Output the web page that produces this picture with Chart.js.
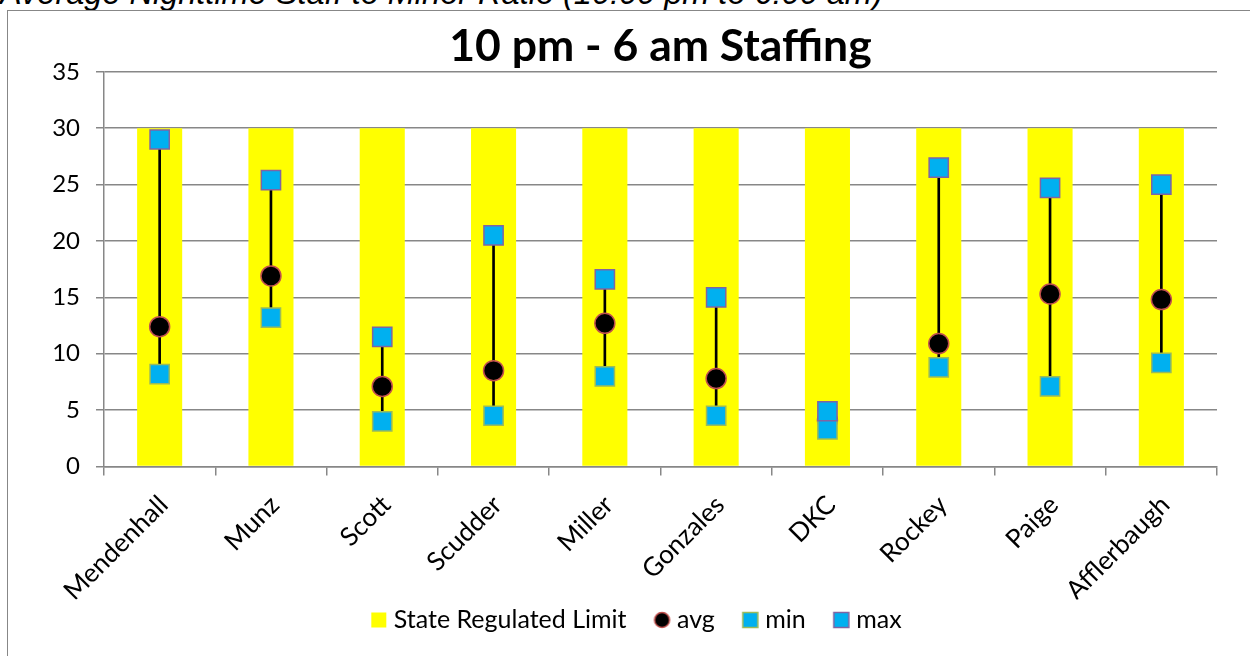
<!DOCTYPE html>
<html>
<head>
<meta charset="utf-8">
<script src="https://cdn.jsdelivr.net/npm/chart.js@4"></script>
<style>
  html, body { margin: 0; padding: 0; background: #fff; overflow: hidden; }
  #wrap { position: relative; width: 1250px; height: 656px; overflow: hidden; }
  #caption {
    position: absolute; left: 0px; top: -23px;
    font: italic 32.5px/32px "Liberation Sans", Arial, sans-serif; color: #000;
    white-space: nowrap;
  }
  #frame {
    position: absolute; left: 7px; top: 10px; width: 1400px; height: 800px;
    border-left: 1.5px solid #878787; border-top: 1.5px solid #878787;
  }
  #chart { position: absolute; left: 0; top: 0; }
</style>
</head>
<body>
<div id="wrap">
  <div id="caption">Average Nighttime Staff to Minor Ratio (10:00 pm to 6:00 am)</div>
  <div id="frame"></div>
  <canvas id="chart" width="1250" height="656"></canvas>
</div>
<script>
// Facilities and their overnight staff-to-minor ratios
const facilities = ['Mendenhall', 'Munz', 'Scott', 'Scudder', 'Miller', 'Gonzales', 'DKC', 'Rockey', 'Paige', 'Afflerbaugh'];
const stateLimit = [30, 30, 30, 30, 30, 30, 30, 30, 30, 30];
const avgRatio = [12.4, 16.9, 7.1, 8.5, 12.7, 7.8, 4.1, 10.9, 15.3, 14.8];
const minRatio = [8.2, 13.2, 4.0, 4.5, 8.0, 4.5, 3.3, 8.8, 7.1, 9.2];
const maxRatio = [29.0, 25.4, 11.5, 20.5, 16.6, 15.0, 4.9, 26.5, 24.7, 25.0];
const yTicks = [0, 5, 10, 15, 20, 25, 30, 35];

const FONT = 'Lato, "Open Sans", sans-serif';
const GRID = '#878787';
const CYAN = '#00B0F0';

// Legend icons: a 16px swatch sitting at the right end of a wider transparent canvas,
// so the swatch lands close to its label with a wide gap before it.
function icon(kind, fill, stroke) {
  const c = document.createElement('canvas');
  c.width = 44; c.height = 18;
  const g = c.getContext('2d');
  if (kind === 'circle') {
    g.beginPath(); g.arc(34.5, 9, 7.5, 0, Math.PI * 2);
    g.fillStyle = fill; g.fill();
    g.lineWidth = 1.5; g.strokeStyle = stroke; g.stroke();
  } else {
    g.fillStyle = fill; g.fillRect(27, 1.5, 15, 15);
    if (stroke) { g.lineWidth = 1.5; g.strokeStyle = stroke; g.strokeRect(27, 1.5, 15, 15); }
  }
  return c;
}
const legendIcons = [
  icon('rect', '#FFFF00', null),
  icon('circle', '#000000', '#C0504D'),
  icon('rect', CYAN, '#9BBB59'),
  icon('rect', CYAN, '#8064A2')
];

new Chart(document.getElementById('chart'), {
  type: 'bar',
  data: {
    labels: facilities,
    datasets: [
      {
        label: 'State Regulated Limit',
        data: stateLimit,
        backgroundColor: '#FFFF00',
        barPercentage: 0.405,
        categoryPercentage: 1,
        grouped: false,
        order: 5
      },
      {
        type: 'line',
        label: 'avg',
        data: avgRatio,
        showLine: false,
        pointStyle: 'circle',
        pointRadius: 10,
        pointBorderWidth: 1.5,
        pointBackgroundColor: '#000000',
        pointBorderColor: '#C0504D',
        order: 3
      },
      {
        type: 'line',
        label: 'min',
        data: minRatio,
        showLine: false,
        pointStyle: 'rect',
        pointRadius: 13.6,
        pointBorderWidth: 1.5,
        pointBackgroundColor: CYAN,
        pointBorderColor: '#9BBB59',
        order: 2
      },
      {
        type: 'line',
        label: 'max',
        data: maxRatio,
        showLine: false,
        pointStyle: 'rect',
        pointRadius: 13.6,
        pointBorderWidth: 1.5,
        pointBackgroundColor: CYAN,
        pointBorderColor: '#8064A2',
        order: 1
      },
      {
        label: 'range',
        data: minRatio.map((m, i) => [m, maxRatio[i]]),
        backgroundColor: '#000000',
        barThickness: 2,
        grouped: false,
        order: 4
      }
    ]
  },
  options: {
    responsive: false,
    animation: false,
    layout: { padding: { left: 36, right: 33, top: 0, bottom: 13.5 } },
    plugins: {
      tooltip: { enabled: false },
      title: {
        display: true,
        fullSize: false,
        text: '10 pm - 6 am Staffing',
        color: '#000',
        font: { family: FONT, size: 44.5, weight: 'bold', lineHeight: 1.12 },
        padding: { top: 22, bottom: 0 }
      },
      legend: {
        position: 'bottom',
        labels: {
          usePointStyle: true,
          pointStyleWidth: 30,
          boxHeight: 16,
          padding: 8,
          color: '#000',
          font: { family: FONT, size: 25 },
          sort: (a, b) => a.datasetIndex - b.datasetIndex,
          filter: (item) => item.datasetIndex < 4,
          generateLabels: (chart) => {
            const items = Chart.defaults.plugins.legend.labels.generateLabels(chart);
            items.forEach((it) => {
              if (it.datasetIndex < 4) it.pointStyle = legendIcons[it.datasetIndex];
            });
            return items;
          }
        }
      }
    },
    scales: {
      x: {
        offset: true,
        grid: { offset: true, drawOnChartArea: false, color: GRID, lineWidth: 1.5, tickLength: 9, tickColor: GRID },
        border: { color: GRID, width: 1.5 },
        ticks: {
          color: '#000',
          font: { family: FONT, size: 26 },
          minRotation: 45, maxRotation: 45,
          padding: 14,
          labelOffset: 4
        },
        afterFit: (axis) => { axis.height = 133; }
      },
      y: {
        min: 0, max: 35,
        afterBuildTicks: (axis) => { axis.ticks = yTicks.map((v) => ({ value: v })); },
        grid: { color: GRID, lineWidth: 1.5, tickLength: 8, tickColor: GRID },
        border: { color: GRID, width: 1.5 },
        ticks: {
          color: '#000',
          font: { family: FONT, size: 24 },
          padding: 16
        },
        afterFit: (axis) => { axis.width = 68; }
      }
    }
  }
});
</script>
</body>
</html>
